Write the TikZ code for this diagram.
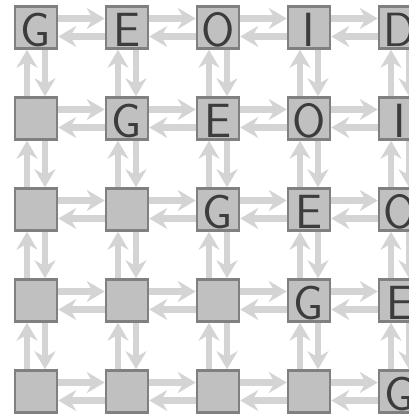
\documentclass[tikz,border=0pt]{standalone}
\usetikzlibrary{arrows.meta}
\definecolor{cellfill}{RGB}{192,192,192}
\definecolor{celledge}{RGB}{128,128,128}
\definecolor{arrowgray}{RGB}{212,212,212}
\definecolor{lettergray}{RGB}{60,60,60}
\begin{document}
\begin{tikzpicture}[x=1pt,y=-1pt,
  cell/.style={draw=celledge, fill=cellfill, line width=2.5pt, minimum size=42pt,
    inner sep=0pt, text height=37pt, text depth=0pt,
    font=\fontsize{48}{48}\selectfont\sffamily, text=lettergray},
  flow/.style={draw=arrowgray, line width=6.5pt,
    -{Stealth[length=18pt,width=21pt,inset=6pt]}}]
\useasboundingbox (0,0) rectangle (409,415);
\clip (0,0) rectangle (409,415);
% grid of cells; the diagonal band spells G E O I D
\foreach \r in {0,...,4}{
  \foreach \c in {0,...,4}{
    \pgfmathtruncatemacro\k{\c-\r}
    \node[cell] (n\r\c) at ({36+91*\c},{27.5+91*\r})
      {\ifnum\k<0 \else\ifcase\k G\or E\or O\or I\or D\fi\fi};
  }
}
% horizontal pairs: rightwards above, leftwards below
\foreach \r in {0,...,4}{
  \foreach \c/\d in {0/1,1/2,2/3,3/4}{
    \draw[flow] ([yshift=9pt]n\r\c.east) -- ([yshift=9pt]n\r\d.west);
    \draw[flow] ([yshift=-9pt]n\r\d.west) -- ([yshift=-9pt]n\r\c.east);
  }
}
% vertical pairs: upwards on the left, downwards on the right
\foreach \c in {0,...,4}{
  \foreach \r/\s in {0/1,1/2,2/3,3/4}{
    \draw[flow] ([xshift=-9pt]n\s\c.north) -- ([xshift=-9pt]n\r\c.south);
    \draw[flow] ([xshift=9pt]n\r\c.south) -- ([xshift=9pt]n\s\c.north);
  }
}
\end{tikzpicture}
\end{document}
